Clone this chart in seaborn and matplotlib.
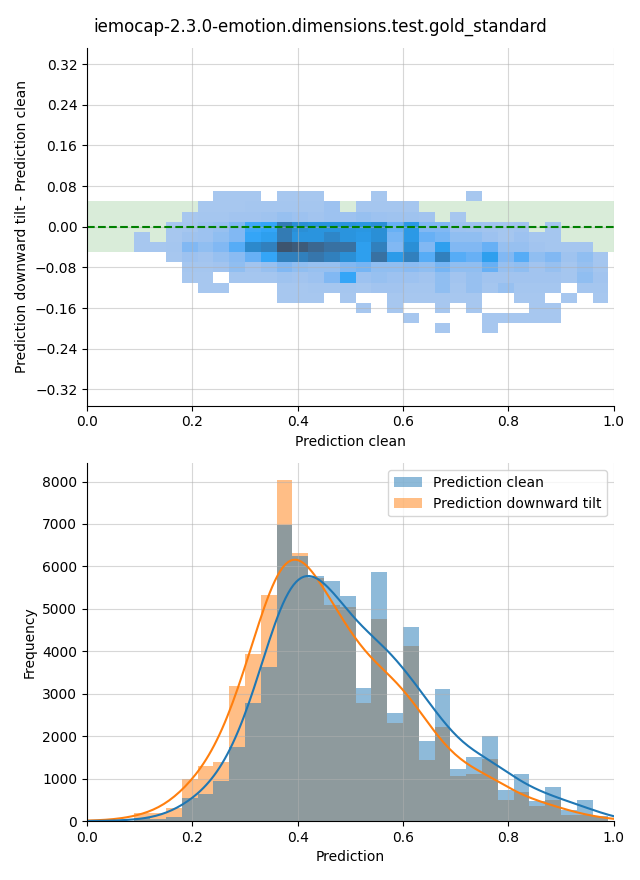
import numpy as np
import pandas as pd
import matplotlib
matplotlib.use("Agg")
import matplotlib.pyplot as plt
import seaborn as sns

title = "iemocap-2.3.0-emotion.dimensions.test.gold_standard"

# bins along the prediction axis (width 0.03), shared by both panels
x_edges = np.linspace(0, 0.99, 34)
x_centers = (x_edges[:-1] + x_edges[1:]) / 2

# bins of the difference (width 0.02, centred on zero)
diff_edges = np.linspace(-0.21, 0.07, 15)
diff_centers = [0.06, 0.04, 0.02, 0.00, -0.02, -0.04, -0.06,
                -0.08, -0.10, -0.12, -0.14, -0.16, -0.18, -0.20]

# 2D counts, one row per difference bin (top to bottom), one column per x bin
diff_counts = [
    [0, 0, 0, 0, 0, 0, 0, 0, 2, 2, 2, 0, 2, 2, 2, 0, 0, 0, 2, 0, 0, 0, 0, 0, 2, 0, 0, 0, 0, 0, 0, 0, 0],
    [0, 0, 0, 0, 0, 0, 0, 2, 2, 2, 3, 3, 3, 3, 3, 6, 0, 3, 3, 3, 3, 0, 0, 0, 0, 0, 0, 0, 0, 0, 0, 0, 0],
    [0, 0, 0, 0, 0, 0, 2, 3, 3, 4, 4, 5, 8, 6, 4, 6, 6, 8, 6, 5, 5, 4, 0, 2, 0, 0, 0, 0, 0, 0, 0, 0, 0],
    [0, 0, 0, 0, 0, 2, 3, 6, 8, 15, 30, 32, 66, 50, 46, 46, 46, 44, 50, 22, 42, 15, 15, 6, 5, 4, 3, 4, 0, 3, 0, 0, 0],
    [0, 0, 0, 2, 0, 2, 5, 6, 10, 15, 32, 37, 66, 46, 46, 57, 46, 42, 50, 18, 42, 22, 18, 10, 10, 6, 3, 6, 3, 3, 0, 0, 0],
    [0, 0, 0, 2, 2, 3, 15, 10, 15, 26, 55, 62, 98, 92, 82, 74, 74, 37, 62, 15, 50, 15, 37, 15, 15, 22, 8, 8, 4, 3, 3, 3, 0],
    [0, 0, 0, 0, 0, 2, 6, 4, 8, 12, 22, 32, 62, 62, 70, 62, 50, 37, 74, 40, 62, 26, 62, 26, 22, 37, 15, 26, 10, 15, 5, 10, 3],
    [0, 0, 0, 0, 0, 0, 3, 3, 4, 10, 4, 8, 15, 10, 8, 8, 15, 18, 10, 10, 12, 10, 18, 10, 10, 22, 8, 10, 4, 8, 3, 8, 3],
    [0, 0, 0, 0, 0, 0, 2, 2, 0, 3, 3, 3, 5, 4, 6, 15, 32, 6, 8, 6, 6, 4, 10, 4, 8, 4, 4, 4, 4, 4, 3, 10, 4],
    [0, 0, 0, 0, 0, 0, 0, 2, 2, 0, 0, 0, 2, 2, 3, 3, 3, 2, 4, 4, 3, 3, 10, 3, 8, 3, 8, 3, 3, 3, 0, 3, 3],
    [0, 0, 0, 0, 0, 0, 0, 0, 0, 0, 0, 0, 2, 2, 2, 0, 2, 0, 0, 2, 2, 2, 2, 2, 2, 0, 0, 2, 2, 0, 2, 0, 2],
    [0, 0, 0, 0, 0, 0, 0, 0, 0, 0, 0, 0, 0, 0, 0, 0, 0, 2, 0, 2, 0, 0, 2, 0, 2, 0, 0, 0, 2, 2, 0, 0, 0],
    [0, 0, 0, 0, 0, 0, 0, 0, 0, 0, 0, 0, 0, 0, 0, 0, 0, 0, 0, 0, 2, 0, 0, 0, 0, 2, 2, 2, 2, 2, 0, 0, 0],
    [0, 0, 0, 0, 0, 0, 0, 0, 0, 0, 0, 0, 0, 0, 0, 0, 0, 0, 0, 0, 0, 0, 2, 0, 0, 2, 0, 0, 0, 0, 0, 0, 0],
]

# histogram counts per x bin
clean_counts = [0, 0, 0, 60, 40, 100, 543, 645, 944, 1755, 2785, 3635, 6987, 6255, 5780, 5665,
                5295, 3140, 5877, 2549, 4579, 1888, 3116, 1227, 1510, 2006, 732, 1109, 472, 795,
                260, 496, 130]
tilt_counts = [20, 10, 10, 190, 190, 307, 983, 1298, 1393, 3186, 3942, 5334, 8025, 6318, 5720, 5083,
               5035, 2785, 4768, 2313, 4131, 1448, 2219, 1070, 1117, 1463, 496, 685, 362, 496,
               150, 134, 100]

# long-form tables for seaborn
rows = []
for yc, counts in zip(diff_centers, diff_counts):
    for xc, n in zip(x_centers, counts):
        if n > 0:
            rows.append((xc, yc, n))
grid_df = pd.DataFrame(rows, columns=["clean", "diff", "n"])

hist_df = pd.concat([
    pd.DataFrame({"Prediction": x_centers, "count": clean_counts, "series": "Prediction clean"}),
    pd.DataFrame({"Prediction": x_centers, "count": tilt_counts, "series": "Prediction downward tilt"}),
], ignore_index=True)

fig, (ax1, ax2) = plt.subplots(2, 1, figsize=(6.4, 8.8))
fig.subplots_adjust(left=0.136, right=0.959, top=0.9455, bottom=0.067, hspace=0.162)
fig.suptitle(title, fontsize=12, y=0.98)

# top: difference vs clean prediction
ax1.axhspan(-0.05, 0.05, color="green", alpha=0.15, lw=0, zorder=0)
sns.histplot(data=grid_df, x="clean", y="diff", weights="n",
             bins=[x_edges.tolist(), diff_edges.tolist()], ax=ax1)
ax1.axhline(0, color="green", ls="--", lw=1.5)
ax1.set_xlim(0, 1)
ax1.set_ylim(-0.352, 0.352)
ax1.set_yticks(np.linspace(-0.32, 0.32, 9))
ax1.set_xlabel("Prediction clean")
ax1.set_ylabel("Prediction downward tilt - Prediction clean")
ax1.grid(alpha=0.5)

# bottom: distributions of both predictions
sns.histplot(data=hist_df, x="Prediction", weights="count", hue="series",
             bins=x_edges.tolist(), kde=True, alpha=0.5, linewidth=0,
             kde_kws=dict(bw_adjust=0.5, cut=3, clip=(0, 1)), ax=ax2)
ax2.set_xlim(0, 1)
ax2.set_xlabel("Prediction")
ax2.set_ylabel("Frequency")
ax2.grid(alpha=0.5)
sns.move_legend(ax2, "upper right", title=None)

sns.despine(fig)
fig.savefig("out.png", dpi=100)
